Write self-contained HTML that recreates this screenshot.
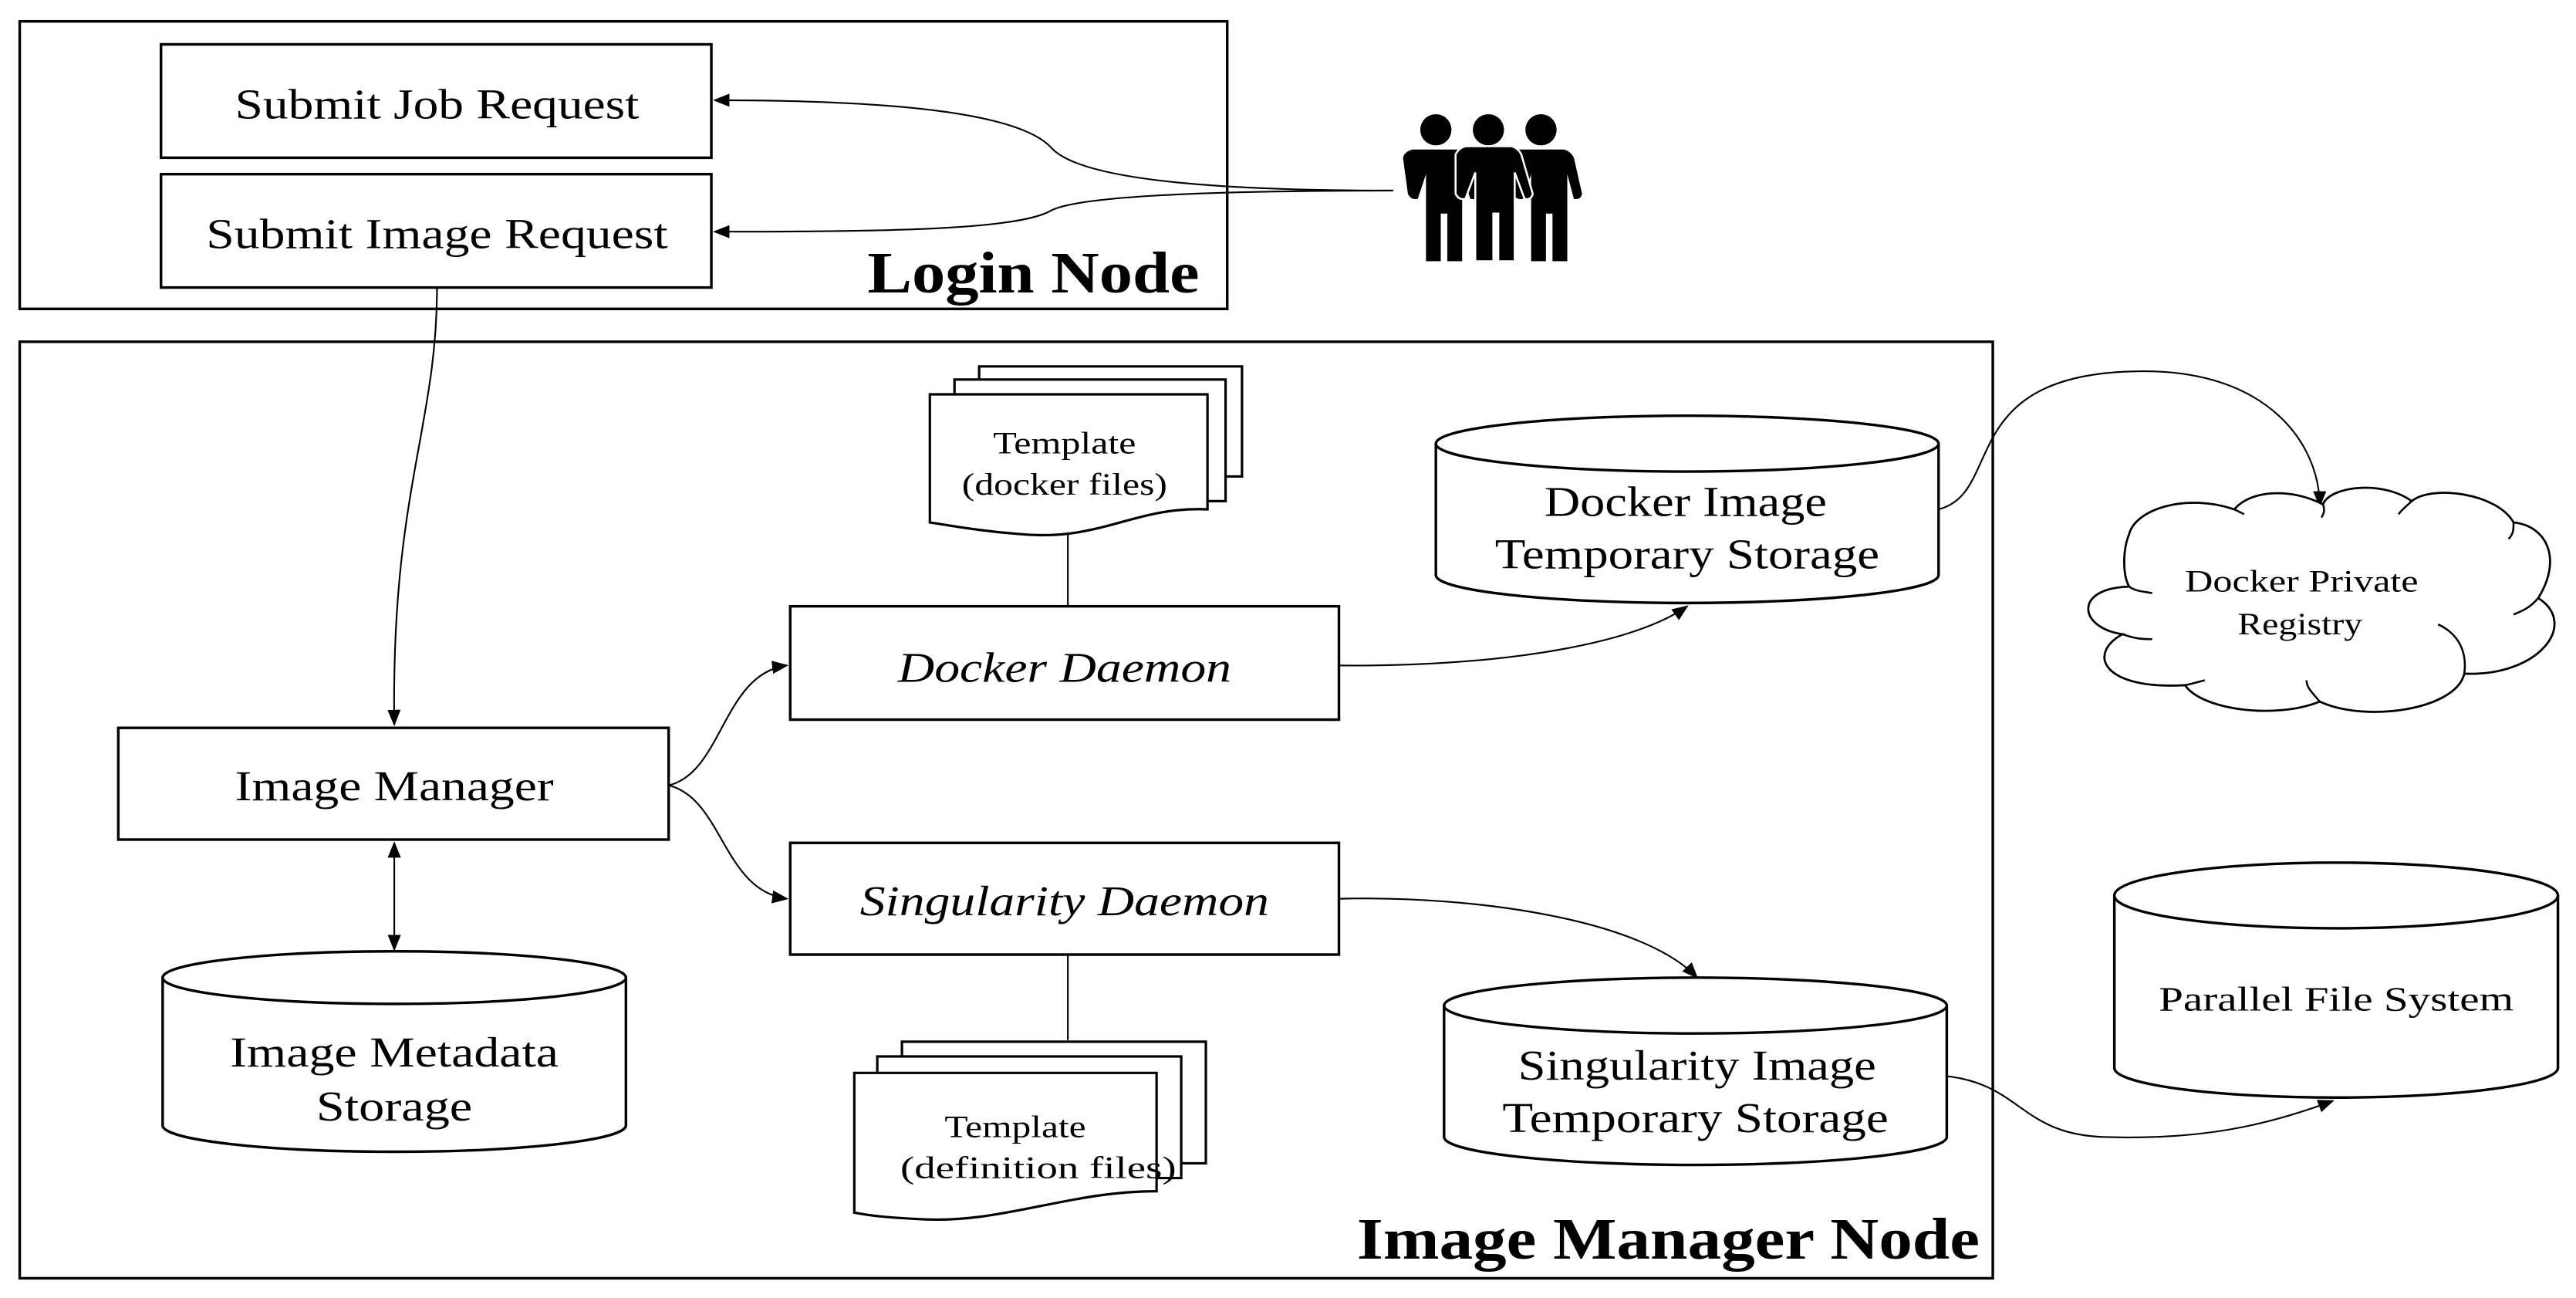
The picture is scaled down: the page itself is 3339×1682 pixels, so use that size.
<!DOCTYPE html>
<html><head><meta charset="utf-8"><style>
html,body{margin:0;padding:0;background:#fff;}
svg{display:block;}
text{font-family:"Liberation Serif",serif;fill:#000;}
</style></head><body>
<svg width="3339" height="1682" viewBox="0 0 1568 790" preserveAspectRatio="none" xmlns="http://www.w3.org/2000/svg">
<defs>
<marker id="a" markerWidth="10" markerHeight="8" refX="9" refY="4" orient="auto" markerUnits="userSpaceOnUse">
<path d="M0,0 L10,4 L0,8 Z" fill="#000"/></marker>
<marker id="s" markerWidth="10" markerHeight="8" refX="1" refY="4" orient="auto" markerUnits="userSpaceOnUse">
<path d="M10,0 L0,4 L10,8 Z" fill="#000"/></marker>
</defs>
<g fill="none" stroke="#000" stroke-width="1.6">
<rect x="12" y="13" width="735" height="175"/>
<rect x="98" y="27" width="335" height="69"/>
<rect x="98" y="106" width="335" height="69"/>
<rect x="12" y="208" width="1201" height="570"/>
<rect x="72" y="443" width="335" height="68"/>
<rect x="481" y="369" width="334" height="69"/>
<rect x="481" y="513" width="334" height="68"/>
</g>
<g fill="none" stroke="#000" stroke-width="1">
<path d="M848,116 C760,116 660,112 640,90 C620,68 540,61 435,61" marker-end="url(#a)"/>
<path d="M848,116 C760,116 660,118 640,128 C620,140 540,141 435,141" marker-end="url(#a)"/>
<path d="M266,175 C266,260 238,300 240,441" marker-end="url(#a)"/>
<path d="M240,513 L240,578" marker-start="url(#s)" marker-end="url(#a)"/>
<path d="M407,478 C440,470 440,410 479,405" marker-end="url(#a)"/>
<path d="M407,478 C440,486 440,542 479,547" marker-end="url(#a)"/>
<path d="M650,320 L650,369"/>
<path d="M650,581 L650,633"/>
<path d="M815,405 C900,406 990,395 1027,369" marker-end="url(#a)"/>
<path d="M1180,310 C1220,300 1190,228 1300,226 C1380,224 1412,270 1412,308" marker-end="url(#a)"/>
<path d="M815,547 C900,545 1000,560 1033,595" marker-end="url(#a)"/>
<path d="M1185,655 C1230,660 1230,690 1280,692 C1340,694 1380,685 1420,670" marker-end="url(#a)"/>
</g>
<g fill="#fff" stroke="#000" stroke-width="1.6">
<path d="M99,595 L99,685 A141,16 0 0 0 381,685 L381,595"/>
<ellipse cx="240" cy="595" rx="141" ry="16"/>
<path d="M874,270 L874,350 A153,17 0 0 0 1180,350 L1180,270"/>
<ellipse cx="1027" cy="270" rx="153" ry="17"/>
<path d="M879,612 L879,692 A153,17 0 0 0 1185,692 L1185,612"/>
<ellipse cx="1032" cy="612" rx="153" ry="17"/>
<path d="M1287,545 L1287,650 A135,18 0 0 0 1557,650 L1557,545"/>
<ellipse cx="1422" cy="545" rx="135" ry="20"/>
</g>
<g fill="#fff" stroke="#000" stroke-width="1.5">
<path d="M596,223 L756,223 L756,290 L596,290 Z"/>
<path d="M581,231 L746,231 L746,305 L581,305 Z"/>
<path d="M566,240 L735,240 L735,310 C690,308 670,330 620,325 C595,323 580,320 566,318 Z"/>
<path d="M549,634 L734,634 L734,708 L549,708 Z"/>
<path d="M534,643 L719,643 L719,717 L534,717 Z"/>
<path d="M520,653 L704,653 L704,725 C650,725 610,745 560,742 C540,741 530,740 520,738 Z"/>
</g>
<path fill="#fff" stroke="#000" stroke-width="1.3" d="M1296,357 C1262,358 1265,382 1292,386 C1270,398 1280,420 1330,417 C1340,432 1385,438 1412,427 C1440,440 1495,432 1500,410 C1545,412 1570,380 1545,364 C1560,340 1550,320 1530,318 C1520,300 1480,295 1468,305 C1450,292 1418,296 1414,307 C1395,297 1370,298 1360,310 C1330,300 1300,310 1296,325 C1292,335 1292,350 1296,357 Z"/>
<g fill="none" stroke="#000" stroke-width="1.2">
<path d="M1296,357 C1300,360 1305,360 1310,361"/>
<path d="M1292,386 C1300,389 1305,389 1310,389"/>
<path d="M1330,417 C1335,416 1338,415 1342,414"/>
<path d="M1412,427 C1406,420 1404,418 1404,414"/>
<path d="M1500,410 C1502,395 1495,385 1484,380"/>
<path d="M1545,364 C1540,370 1535,372 1530,374"/>
<path d="M1530,318 C1530,322 1530,325 1527,328"/>
<path d="M1468,305 C1465,308 1462,310 1460,313"/>
<path d="M1414,307 C1415,310 1415,312 1413,315"/>
<path d="M1360,310 C1362,311 1364,312 1366,313"/>
</g>
<g fill="#000">
<circle cx="874" cy="79" r="9.5"/><circle cx="906" cy="79" r="9.5"/><circle cx="938" cy="79" r="9.5"/>
<path d="M860,91 L888,91 Q892,92 894,96 L900,118 Q899,122 895,121 L890,106 L890,159 L881,159 L881,130 L877,130 L877,159 L868,159 L868,106 L863,121 Q859,122 857,118 L854,96 Q855,92 860,91 Z"/>
<path d="M924,91 L952,91 Q956,92 958,96 L963,118 Q962,122 958,121 L954,106 L954,159 L945,159 L945,130 L941,130 L941,159 L932,159 L932,106 L927,121 Q923,122 921,118 L918,96 Q919,92 924,91 Z"/>
<path d="M892,89 L920,89 Q924,90 926,94 L933,118 Q932,122 928,121 L922,105 L922,159 L912,159 L912,130 L909,130 L909,159 L898,159 L898,105 L892,121 Q888,122 886,118 L886,94 Q888,90 892,89 Z" stroke="#fff" stroke-width="1.2"/>
</g>
<g font-size="26" text-anchor="middle" lengthAdjust="spacingAndGlyphs">
<text x="266" y="72" textLength="246" lengthAdjust="spacingAndGlyphs">Submit Job Request</text>
<text x="266" y="151" textLength="281" lengthAdjust="spacingAndGlyphs">Submit Image Request</text>
<text x="240" y="487" textLength="194" lengthAdjust="spacingAndGlyphs">Image Manager</text>
<text x="648" y="415" font-style="italic" textLength="203" lengthAdjust="spacingAndGlyphs">Docker Daemon</text>
<text x="648" y="557" font-style="italic" textLength="249" lengthAdjust="spacingAndGlyphs">Singularity Daemon</text>
<text x="240" y="649" textLength="200" lengthAdjust="spacingAndGlyphs">Image Metadata</text>
<text x="240" y="682" textLength="95" lengthAdjust="spacingAndGlyphs">Storage</text>
<text x="1026" y="314" textLength="172" lengthAdjust="spacingAndGlyphs">Docker Image</text>
<text x="1027" y="346" textLength="234" lengthAdjust="spacingAndGlyphs">Temporary Storage</text>
<text x="1033" y="657" textLength="218" lengthAdjust="spacingAndGlyphs">Singularity Image</text>
<text x="1032" y="689" textLength="235" lengthAdjust="spacingAndGlyphs">Temporary Storage</text>
</g>
<g font-size="19" text-anchor="middle">
<text x="648" y="276" textLength="87" lengthAdjust="spacingAndGlyphs">Template</text>
<text x="648" y="301" textLength="125" lengthAdjust="spacingAndGlyphs">(docker files)</text>
<text x="618" y="692" textLength="86" lengthAdjust="spacingAndGlyphs">Template</text>
<text x="632" y="717" textLength="168" lengthAdjust="spacingAndGlyphs">(definition files)</text>
<text x="1401" y="360" textLength="142" lengthAdjust="spacingAndGlyphs">Docker Private</text>
<text x="1400" y="386" textLength="76" lengthAdjust="spacingAndGlyphs">Registry</text>
<text x="1422" y="615" font-size="21" textLength="216" lengthAdjust="spacingAndGlyphs">Parallel File System</text>
</g>
<g font-size="36" font-weight="bold" text-anchor="end">
<text x="730" y="178" textLength="202" lengthAdjust="spacingAndGlyphs">Login Node</text>
<text x="1205" y="766" textLength="379" lengthAdjust="spacingAndGlyphs">Image Manager Node</text>
</g>
</svg>
</body></html>
